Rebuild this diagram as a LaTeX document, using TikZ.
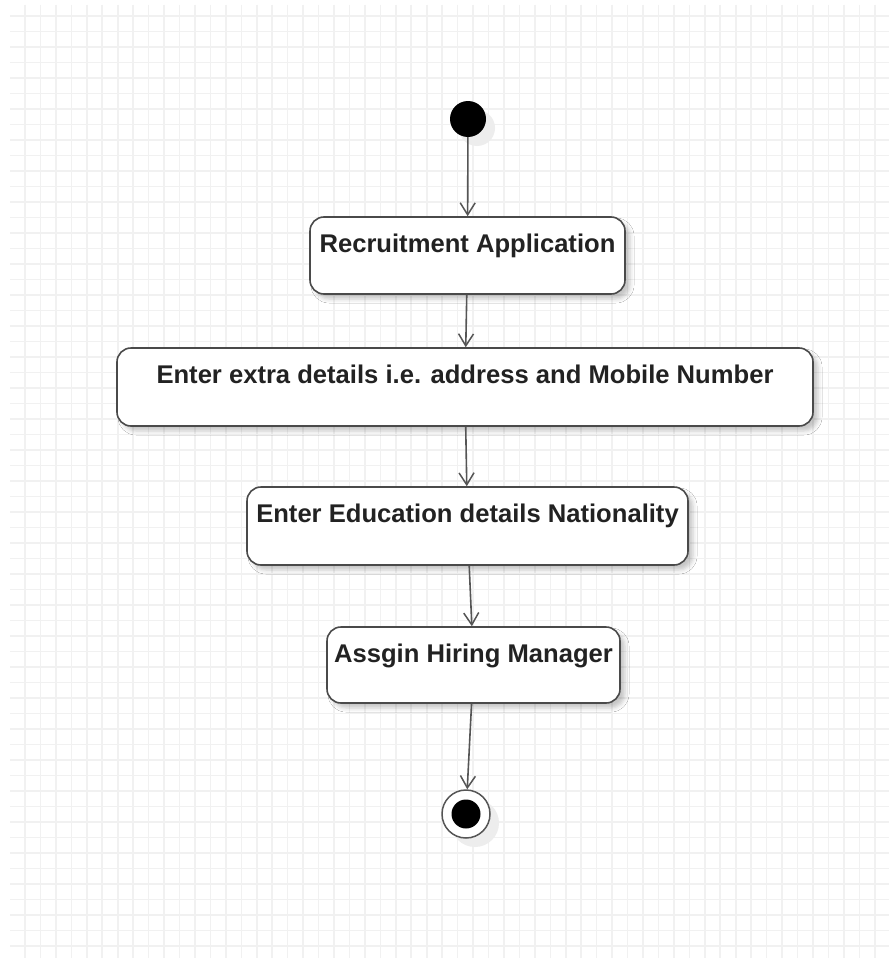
\documentclass[tikz,border=0pt]{standalone}
\usepackage{fontspec}
\setmainfont{Liberation Sans}
\usetikzlibrary{arrows.meta,shadows.blur}

\definecolor{gridcol}{HTML}{F1F1F1}
\definecolor{edgecol}{HTML}{4A4A4A}
\definecolor{linecol}{HTML}{555555}
\definecolor{txtcol}{HTML}{222222}

\tikzset{
  gridline/.style={draw=gridcol, line width=1.6pt},
  actbox/.style={draw=edgecol, line width=1.6pt, fill=white, rounded corners=14pt,
    rectangle, inner xsep=0pt, inner ysep=0pt, text height=35pt,
    font=\fontsize{25.6}{30}\selectfont\bfseries, text=txtcol,
    blur shadow={shadow xshift=5pt, shadow yshift=-5pt, shadow blur radius=4pt, shadow opacity=22}},
  flow/.style={draw=linecol, line width=1.6pt, -{Straight Barb[length=12pt,width=15pt,line width=1.5pt]}},
}

\begin{document}
\begin{tikzpicture}[x=1pt, y=-1pt]
  \useasboundingbox (0,0) rectangle (889,958);
  \fill[white] (0,0) rectangle (889,958);

  % background grid
  \foreach \i in {0,...,55}
    \draw[gridline] ({25+15.45*\i},5) -- ({25+15.45*\i},958);
  \foreach \j in {0,...,60}
    \draw[gridline] (10,{16+15.5*\j}) -- (889,{16+15.5*\j});

  % initial state
  \fill[black!7] (477,128) circle (18);
  \node[circle, fill=black, minimum size=36pt, inner sep=0pt] (start) at (468,119) {};

  % activities
  \node[actbox, minimum width=315pt, text depth=42pt] (a1) at (467.5,255.5) {Recruitment Application};
  \node[actbox, minimum width=696pt, text depth=43pt] (a2) at (465,387) {Enter extra details i.e. address and Mobile Number};
  \node[actbox, minimum width=441pt, text depth=43pt] (a3) at (467.5,526) {Enter Education details Nationality};
  \node[actbox, minimum width=293pt, text depth=41pt] (a4) at (473.5,665) {Assgin Hiring Manager};

  % final state
  \fill[black!7] (475,823) circle (24);
  \node[circle, draw=linecol, line width=1.5pt, fill=white, minimum size=48pt, inner sep=0pt] (end) at (466,814) {};
  \fill[black] (end.center) circle (14.5);

  % control flow
  \draw[flow] (start) -- (a1);
  \draw[flow] (a1) -- (a2);
  \draw[flow] (a2) -- (a3);
  \draw[flow] (a3) -- (a4);
  \draw[flow] (a4) -- (end);
\end{tikzpicture}
\end{document}
